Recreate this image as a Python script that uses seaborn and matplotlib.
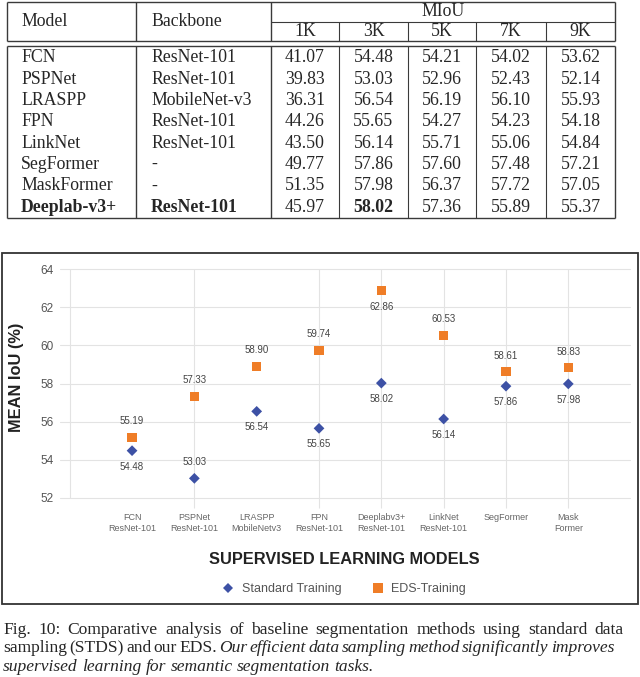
import matplotlib
matplotlib.use("Agg")
import matplotlib.pyplot as plt
from matplotlib.patches import Rectangle
import seaborn as sns
import pandas as pd

# table data
models = ["FCN", "PSPNet", "LRASPP", "FPN", "LinkNet", "SegFormer", "MaskFormer", "Deeplab-v3+"]
backbones = ["ResNet-101", "ResNet-101", "MobileNet-v3", "ResNet-101", "ResNet-101", "-", "-", "ResNet-101"]
sizes = ["1K", "3K", "5K", "7K", "9K"]
miou = [
    [41.07, 54.48, 54.21, 54.02, 53.62],
    [39.83, 53.03, 52.96, 52.43, 52.14],
    [36.31, 56.54, 56.19, 56.10, 55.93],
    [44.26, 55.65, 54.27, 54.23, 54.18],
    [43.50, 56.14, 55.71, 55.06, 54.84],
    [49.77, 57.86, 57.60, 57.48, 57.21],
    [51.35, 57.98, 56.37, 57.72, 57.05],
    [45.97, 58.02, 57.36, 55.89, 55.37],
]

# chart data
chart_models = ["FCN\nResNet-101", "PSPNet\nResNet-101", "LRASPP\nMobileNetv3", "FPN\nResNet-101",
                "Deeplabv3+\nResNet-101", "LinkNet\nResNet-101", "SegFormer", "Mask\nFormer"]
standard = [54.48, 53.03, 56.54, 55.65, 58.02, 56.14, 57.86, 57.98]
eds = [55.19, 57.33, 58.90, 59.74, 62.86, 60.53, 58.61, 58.83]
series_names = ["Standard Training", "EDS-Training"]

caption = [
    [("Fig. 10: Comparative analysis of baseline segmentation methods using standard data", "normal")],
    [("sampling (STDS) and our EDS.", "normal"),
     ("Our efficient data sampling method significantly improves", "italic")],
    [("supervised learning for semantic segmentation tasks.", "italic")],
]

sns.set_theme(style="white")
plt.rcParams["font.family"] = ["Liberation Sans", "DejaVu Sans"]

BLUE = "#3d51a5"
ORANGE = "#ef7d27"

fig = plt.figure(figsize=(6.4, 6.77), dpi=100)

# overlay in pixel coordinates for the table, frame and caption
ov = fig.add_axes([0, 0, 1, 1])
ov.set_xlim(0, 640)
ov.set_ylim(677, 0)
ov.axis("off")
ov.patch.set_alpha(0)

# ---- table ----
serif = ["Liberation Serif", "DejaVu Serif"]
tsize = 12.8
cols = [7, 136, 271, 339, 408, 476, 546, 615]
lc = "#3a3a3a"
ov.hlines([2, 41, 46, 218], cols[0], cols[-1], color=lc, lw=1.0)
ov.hlines(22, cols[2], cols[-1], color=lc, lw=0.8)
for x in [cols[0], cols[1], cols[2], cols[-1]]:
    ov.vlines(x, 2, 41, color=lc, lw=1.0)
    ov.vlines(x, 46, 218, color=lc, lw=1.0)
for x in cols[3:-1]:
    ov.vlines(x, 22, 41, color=lc, lw=0.8)
    ov.vlines(x, 46, 218, color=lc, lw=0.8)

ov.text(21, 22, "Model", family=serif, fontsize=tsize, va="center")
ov.text(151, 22, "Backbone", family=serif, fontsize=tsize, va="center")
ov.text((cols[2] + cols[-1]) / 2, 12, "MIoU", family=serif, fontsize=tsize, va="center", ha="center")
for j, s in enumerate(sizes):
    ov.text((cols[j + 2] + cols[j + 3]) / 2, 31.5, s, family=serif, fontsize=tsize, va="center", ha="center")

row_h = (218 - 47) / len(models)
best_col = [max(range(len(models)), key=lambda i: miou[i][j]) for j in range(len(sizes))]
for i, (m, b) in enumerate(zip(models, backbones)):
    y = 47 + row_h * (i + 0.5)
    wt = "bold" if i == len(models) - 1 else "normal"
    ov.text(21, y, m, family=serif, fontsize=tsize, va="center", fontweight=wt)
    ov.text(151, y, b, family=serif, fontsize=tsize, va="center", fontweight=wt)
    for j, v in enumerate(miou[i]):
        bold = "bold" if (j == 1 and best_col[j] == i) else "normal"
        ov.text((cols[j + 2] + cols[j + 3]) / 2, y, f"{v:.2f}", family=serif, fontsize=tsize,
                va="center", ha="center", fontweight=bold)

# ---- chart ----
ov.add_patch(Rectangle((1.5, 253), 636.5, 351, fill=False, lw=1.3, ec="#333333"))

ax = fig.add_axes([60 / 640, (677 - 498) / 677, 570 / 640, 229 / 677])
ax.patch.set_alpha(0)

df = pd.DataFrame({
    "pos": list(range(len(chart_models))) * 2,
    "miou": standard + eds,
    "series": [series_names[0]] * len(standard) + [series_names[1]] * len(eds),
})

for y in range(52, 65, 2):
    ax.axhline(y, color="#e3e3e3", lw=0.8, zorder=0, clip_on=False)
ax.vlines(-1, 52, 64, color="#e3e3e3", lw=0.8, zorder=0)
ax.vlines([1, 3, 4, 5, 6, 7], 51.48, 64, color="#e3e3e3", lw=0.8, zorder=0, clip_on=False)

sns.scatterplot(data=df, x="pos", y="miou", hue="series", style="series", size="series",
                palette={series_names[0]: BLUE, series_names[1]: ORANGE},
                markers={series_names[0]: "D", series_names[1]: "s"},
                sizes={series_names[0]: 30, series_names[1]: 44},
                linewidth=0, ax=ax, zorder=3)

below_eds = {4}
above_std = {1}
for i, v in enumerate(standard):
    dy = 11.5 if i in above_std else -11.5
    ax.annotate(f"{v:.2f}", (i, v), xytext=(0, dy), textcoords="offset points",
                ha="center", va="center", fontsize=7, color="#444444")
for i, v in enumerate(eds):
    dy = -11.5 if i in below_eds else 11.5
    ax.annotate(f"{v:.2f}", (i, v), xytext=(0, dy), textcoords="offset points",
                ha="center", va="center", fontsize=7, color="#444444")

ax.set_xlim(-1.156, 7.99)
ax.set_ylim(52, 64)
ax.set_yticks(range(52, 65, 2))
ax.set_xticks(range(len(chart_models)))
ax.set_xticklabels(chart_models, fontsize=6.5, color="#666666", linespacing=1.4, va="top")
ax.tick_params(axis="x", length=0, pad=10.5)
ax.tick_params(axis="y", length=0, pad=4.5, labelsize=8.5, labelcolor="#555555")
for s in ax.spines.values():
    s.set_visible(False)

ax.set_ylabel("MEAN IoU (%)", fontsize=11.8, fontweight="bold", color="#222222")
ax.yaxis.label.set_va("center")
ax.yaxis.set_label_coords((17 - 60) / 570, (498 - 377) / 229)
ax.set_xlabel("SUPERVISED LEARNING MODELS", fontsize=11.8, fontweight="bold", color="#222222")
ax.xaxis.label.set_va("center")
ax.xaxis.set_label_coords((344.5 - 60) / 570, (498 - 560) / 229)

handles, labels = ax.get_legend_handles_labels()
ax.legend(handles, labels, loc="center", bbox_to_anchor=(344 / 640, 1 - 589 / 677),
          bbox_transform=fig.transFigure, ncol=2, frameon=False, fontsize=9,
          handletextpad=0.6, columnspacing=2.4, handlelength=1.0, labelcolor="#555555")

# ---- caption (justified) ----
renderer = fig.canvas.get_renderer()
csize = 12.6
baselines = [634, 652, 671]
right_edges = [624, 614, None]
for line, yb, x1 in zip(caption, baselines, right_edges):
    words = []
    for chunk, st in line:
        words += [(w, st) for w in chunk.split(" ")]
    objs = [ov.text(0, yb, w, family=serif, fontsize=csize, style=st, va="baseline", ha="left")
            for w, st in words]
    widths = [t.get_window_extent(renderer).width for t in objs]
    if x1 is None:
        gap = csize * 100 / 72 * 0.25
    else:
        gap = (x1 - 3 - sum(widths)) / (len(objs) - 1)
    x = 3
    for t, w in zip(objs, widths):
        t.set_x(x)
        x += w + gap

fig.savefig("out.png", dpi=100)
